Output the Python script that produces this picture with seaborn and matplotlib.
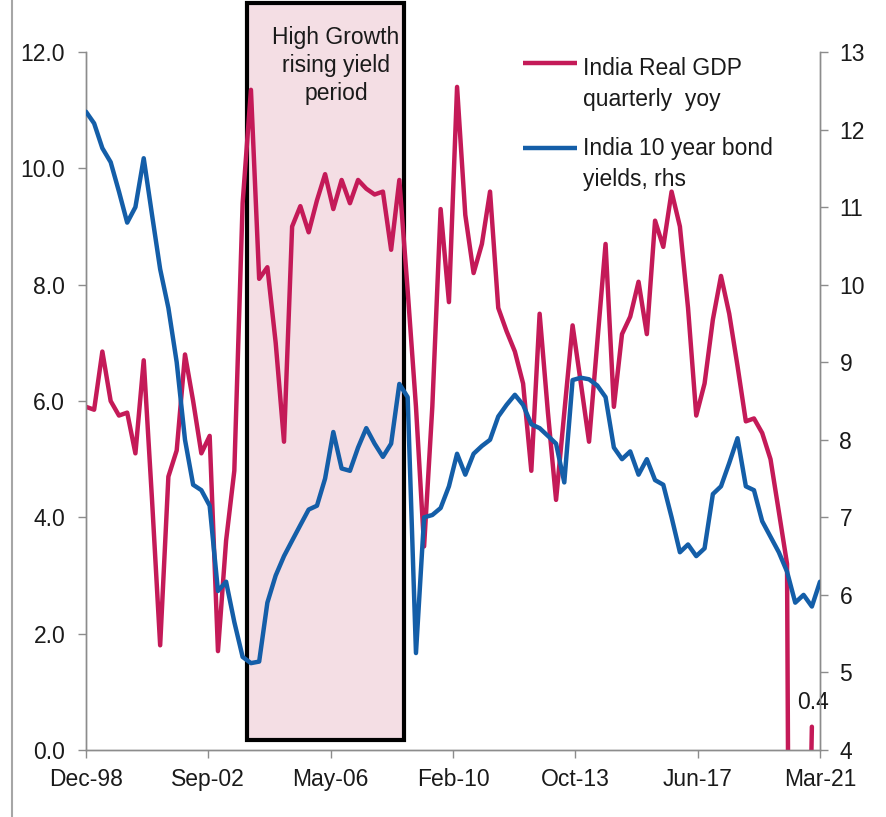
import numpy as np
import pandas as pd
import matplotlib
matplotlib.use("Agg")
import matplotlib.pyplot as plt
import matplotlib.dates as mdates
from matplotlib.patches import Rectangle
from matplotlib.lines import Line2D
import seaborn as sns

# Quarterly series, Dec-98 .. Mar-21
first_quarter = "1998Q4"
last_quarter = "2021Q1"

# India real GDP, quarterly yoy % (Dec-98 .. Dec-20)
gdp_yoy = [
    5.9, 5.85, 6.85, 6.0, 5.75, 5.8, 5.1, 6.7, 4.3, 1.8,
    4.7, 5.15, 6.8, 6.0, 5.1, 5.4, 1.7, 3.6, 4.8, 9.4,
    11.35, 8.1, 8.3, 7.0, 5.3, 9.0, 9.35, 8.9, 9.45, 9.9,
    9.3, 9.8, 9.4, 9.8, 9.65, 9.55, 9.6, 8.6, 9.8, 7.9,
    5.9, 3.5, 5.9, 9.3, 7.7, 11.4, 9.2, 8.2, 8.7, 9.6,
    7.6, 7.2, 6.85, 6.3, 4.8, 7.5, 5.8, 4.3, 5.8, 7.3,
    6.3, 5.3, 7.0, 8.7, 5.9, 7.15, 7.45, 8.05, 7.15, 9.1,
    8.65, 9.6, 9.0, 7.6, 5.75, 6.3, 7.4, 8.15, 7.5, 6.6,
    5.65, 5.7, 5.45, 5.0, 4.1, 3.2, -24.4, -7.4, 0.4,
]

# India 10 year government bond yield, % (Dec-98 .. Mar-21)
bond_yield = [
    12.23, 12.08, 11.76, 11.58, 11.2, 10.8, 11.0, 11.63, 10.9, 10.2,
    9.7, 9.0, 8.0, 7.42, 7.35, 7.15, 6.05, 6.17, 5.65, 5.2,
    5.12, 5.14, 5.9, 6.25, 6.5, 6.7, 6.9, 7.1, 7.15, 7.5,
    8.1, 7.63, 7.6, 7.9, 8.15, 7.95, 7.78, 7.95, 8.72, 8.55,
    5.25, 7.0, 7.03, 7.12, 7.4, 7.82, 7.55, 7.82, 7.92, 8.0,
    8.3, 8.45, 8.58, 8.45, 8.2, 8.15, 8.05, 7.95, 7.45, 8.77,
    8.8, 8.78, 8.7, 8.55, 7.9, 7.75, 7.85, 7.55, 7.75, 7.48,
    7.42, 7.0, 6.55, 6.65, 6.5, 6.6, 7.3, 7.4, 7.7, 8.02,
    7.4, 7.35, 6.95, 6.75, 6.55, 6.3, 5.9, 6.0, 5.85, 6.17,
]

x_tick_labels = ["Dec-98", "Sep-02", "May-06", "Feb-10", "Oct-13", "Jun-17", "Mar-21"]
gdp_ticks = [0, 2, 4, 6, 8, 10, 12]
yield_ticks = [4, 5, 6, 7, 8, 9, 10, 11, 12, 13]

# Highlighted high-growth / rising-yield window
highlight_start = "2003-11-15"
highlight_end = "2008-08-15"
highlight_text = "High Growth\nrising yield\nperiod"

label_gdp = "India Real GDP\nquarterly  yoy"
label_yield = "India 10 year bond\nyields, rhs"

RED = "#C41A58"
BLUE = "#145EA8"
PINK = "#F4DEE4"
GREY = "#8C8C8C"
TEXT = "#1A1A1A"
FS = 16.5

sns.set_theme(style="white")
plt.rcParams["font.family"] = ["Liberation Sans", "DejaVu Sans"]
plt.rcParams["font.size"] = FS

quarters = pd.period_range(first_quarter, last_quarter, freq="Q")
dates = quarters.end_time.normalize()

gdp_df = pd.DataFrame({"date": dates[: len(gdp_yoy)], "gdp": gdp_yoy})
yld_df = pd.DataFrame({"date": dates[: len(bond_yield)], "yield": bond_yield})

fig = plt.figure(figsize=(8.86, 8.17), dpi=100)
ax = fig.add_axes([86 / 886, 1 - 750 / 817, 734 / 886, 698 / 817])
ax2 = ax.twinx()

# shaded period box
x0 = mdates.date2num(pd.Timestamp(highlight_start))
x1 = mdates.date2num(pd.Timestamp(highlight_end))
rect = Rectangle((x0, 0.17), x1 - x0, 12.84 - 0.17, facecolor=PINK,
                 edgecolor="black", linewidth=3.0, zorder=1, clip_on=False)
ax.add_patch(rect)
ax.text((x0 + x1) / 2 + 120, 12.44, highlight_text, ha="center", va="top",
        fontsize=FS, color=TEXT, linespacing=1.28, zorder=5)

sns.lineplot(data=gdp_df, x="date", y="gdp", ax=ax, color=RED, linewidth=3.2,
             legend=False, zorder=3)
sns.lineplot(data=yld_df, x="date", y="yield", ax=ax2, color=BLUE, linewidth=3.2,
             legend=False, zorder=3)
for ln in ax.get_lines() + ax2.get_lines():
    ln.set_solid_joinstyle("round")
    ln.set_solid_capstyle("round")

# value label on the latest GDP print
ax.annotate(f"{gdp_yoy[-1]:.1f}", xy=(gdp_df["date"].iloc[-1], gdp_yoy[-1]),
            xytext=(1, 9), textcoords="offset points", ha="center", va="bottom",
            fontsize=FS, color=TEXT)

# axes ranges and ticks
start_num = mdates.date2num(dates[0])
end_num = mdates.date2num(dates[-1])
ax.set_xlim(start_num, end_num)
ax.set_xticks(np.linspace(start_num, end_num, len(x_tick_labels)))
ax.set_xticklabels(x_tick_labels)
ax.set_ylim(gdp_ticks[0], gdp_ticks[-1])
ax.set_yticks(gdp_ticks)
ax.set_yticklabels([f"{v:.1f}" for v in gdp_ticks])
ax2.set_ylim(yield_ticks[0], yield_ticks[-1])
ax2.set_yticks(yield_ticks)
ax2.set_yticklabels([str(v) for v in yield_ticks])
ax.set_xlabel("")
ax.set_ylabel("")
ax2.set_ylabel("")

for a in (ax, ax2):
    a.set_facecolor("none")
    a.spines["top"].set_visible(False)
    for side in ("left", "right", "bottom"):
        a.spines[side].set_color(GREY)
        a.spines[side].set_linewidth(1.0)
ax.patch.set_facecolor("white")
ax.set_zorder(0)
ax2.set_zorder(1)
ax2.patch.set_visible(False)

ax.tick_params(axis="y", which="both", left=True, length=6, width=1, color=GREY,
               pad=9, labelsize=FS, labelcolor=TEXT)
ax.tick_params(axis="x", which="both", bottom=True, length=6, width=1, color=GREY,
               pad=7, labelsize=FS, labelcolor=TEXT)
ax2.tick_params(axis="y", which="both", right=True, length=6, width=1, color=GREY,
                pad=8, labelsize=FS, labelcolor=TEXT)

# legend drawn as line samples with wrapped labels
for (y_line, y_text, color, label) in ((0.984, 0.993, RED, label_gdp),
                                       (0.862, 0.878, BLUE, label_yield)):
    ax2.add_line(Line2D([0.5954, 0.669], [y_line, y_line], transform=ax2.transAxes,
                        color=color, linewidth=3.2, solid_capstyle="butt", clip_on=False))
    ax2.text(0.677, y_text, label, transform=ax2.transAxes, ha="left",
             va="top", fontsize=FS, color=TEXT, linespacing=1.45)

# outer chart frame edge on the left
fig.add_artist(Line2D([12 / 886, 12 / 886], [0, 1], transform=fig.transFigure,
                      color="#A6A6A6", linewidth=1.5))

fig.savefig("out.png", dpi=100, facecolor="white")
